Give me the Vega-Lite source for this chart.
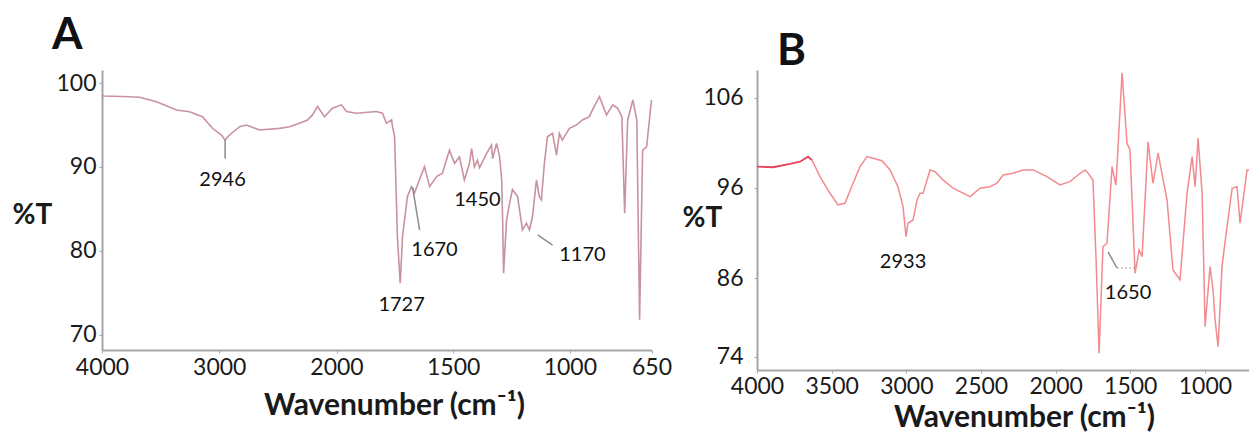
{
  "$schema": "https://vega.github.io/schema/vega-lite/v6.json",
  "background": "white",
  "padding": {"left": 12, "top": 14, "right": 0, "bottom": 0},
  "bounds": "flush",
  "spacing": 105,
  "config": {
    "view": {"stroke": null},
    "axis": {"grid": false, "labelFont": "Lato", "titleFont": "Lato", "domainColor": "#a6a6a6", "domainWidth": 2, "tickColor": "#a6a6a6", "tickSize": 3, "labelColor": "#1a1a1a", "titleColor": "#1a1a1a", "labelFontSize": 23, "labelFlush": false, "labelOverlap": false, "format": "d"},
    "text": {"font": "Lato"},
    "title": {"font": "Lato"}
  },
  "datasets": {
    "A": [
      {"w": 4000, "t": 98.5}, {"w": 3979, "t": 98.45}, {"w": 3765, "t": 98.37}, {"w": 3680, "t": 98.3}, {"w": 3535, "t": 97.77}, {"w": 3365, "t": 96.79}, {"w": 3254, "t": 96.58}, {"w": 3143, "t": 95.99}, {"w": 3058, "t": 94.61}, {"w": 2981, "t": 93.81}, {"w": 2950, "t": 93.2}, {"w": 2913, "t": 93.81}, {"w": 2827, "t": 94.8}, {"w": 2768, "t": 95.0}, {"w": 2657, "t": 94.4}, {"w": 2486, "t": 94.6}, {"w": 2401, "t": 94.8}, {"w": 2316, "t": 95.2}, {"w": 2247, "t": 95.6}, {"w": 2205, "t": 96.2}, {"w": 2162, "t": 97.2}, {"w": 2102, "t": 95.99}, {"w": 2034, "t": 96.99}, {"w": 1979, "t": 97.4}, {"w": 1957, "t": 96.6}, {"w": 1914, "t": 96.4}, {"w": 1829, "t": 96.6}, {"w": 1803, "t": 96.4}, {"w": 1786, "t": 95.2}, {"w": 1764, "t": 95.6}, {"w": 1760, "t": 94.8}, {"w": 1751, "t": 93.6}, {"w": 1739, "t": 81.7}, {"w": 1727, "t": 76.15}, {"w": 1717, "t": 81.7}, {"w": 1696, "t": 86.5}, {"w": 1679, "t": 87.65}, {"w": 1666, "t": 86.9}, {"w": 1623, "t": 90.04}, {"w": 1601, "t": 87.65}, {"w": 1571, "t": 88.85}, {"w": 1546, "t": 89.25}, {"w": 1516, "t": 92.0}, {"w": 1494, "t": 90.44}, {"w": 1473, "t": 91.2}, {"w": 1452, "t": 88.45}, {"w": 1430, "t": 90.44}, {"w": 1421, "t": 92.2}, {"w": 1409, "t": 90.0}, {"w": 1396, "t": 90.8}, {"w": 1387, "t": 89.9}, {"w": 1357, "t": 91.6}, {"w": 1336, "t": 92.6}, {"w": 1331, "t": 91.0}, {"w": 1314, "t": 92.8}, {"w": 1301, "t": 91.2}, {"w": 1292, "t": 88.45}, {"w": 1288, "t": 83.7}, {"w": 1284, "t": 77.35}, {"w": 1271, "t": 83.7}, {"w": 1258, "t": 85.7}, {"w": 1246, "t": 87.3}, {"w": 1224, "t": 86.5}, {"w": 1203, "t": 82.5}, {"w": 1186, "t": 83.3}, {"w": 1173, "t": 82.5}, {"w": 1160, "t": 84.1}, {"w": 1143, "t": 88.45}, {"w": 1131, "t": 86.5}, {"w": 1122, "t": 86.1}, {"w": 1109, "t": 90.44}, {"w": 1096, "t": 93.6}, {"w": 1074, "t": 94.0}, {"w": 1057, "t": 91.4}, {"w": 1045, "t": 94.0}, {"w": 1032, "t": 93.2}, {"w": 1002, "t": 94.6}, {"w": 972, "t": 95.0}, {"w": 946, "t": 95.6}, {"w": 916, "t": 95.99}, {"w": 903, "t": 96.8}, {"w": 873, "t": 98.37}, {"w": 843, "t": 96.2}, {"w": 816, "t": 97.4}, {"w": 795, "t": 96.99}, {"w": 777, "t": 95.99}, {"w": 765, "t": 84.5}, {"w": 752, "t": 95.6}, {"w": 730, "t": 97.98}, {"w": 713, "t": 95.6}, {"w": 701, "t": 71.8}, {"w": 688, "t": 92.0}, {"w": 671, "t": 92.4}, {"w": 650, "t": 97.98}
    ],
    "B1": [
      {"w": 4000, "t": 98.37}, {"w": 3893, "t": 98.3}, {"w": 3779, "t": 98.67}, {"w": 3712, "t": 98.92}, {"w": 3658, "t": 99.48}, {"w": 3632, "t": 99.11}
    ],
    "B2": [
      {"w": 3632, "t": 99.11}, {"w": 3578, "t": 97.26}, {"w": 3511, "t": 95.41}, {"w": 3457, "t": 94.11}, {"w": 3411, "t": 94.3}, {"w": 3357, "t": 96.52}, {"w": 3310, "t": 98.37}, {"w": 3263, "t": 99.48}, {"w": 3223, "t": 99.3}, {"w": 3163, "t": 99.03}, {"w": 3109, "t": 98.0}, {"w": 3056, "t": 96.14}, {"w": 3022, "t": 93.92}, {"w": 3002, "t": 90.59}, {"w": 2989, "t": 92.08}, {"w": 2955, "t": 92.44}, {"w": 2928, "t": 94.67}, {"w": 2908, "t": 95.41}, {"w": 2888, "t": 95.41}, {"w": 2841, "t": 98.0}, {"w": 2808, "t": 97.81}, {"w": 2754, "t": 96.89}, {"w": 2687, "t": 95.97}, {"w": 2573, "t": 95.03}, {"w": 2506, "t": 95.97}, {"w": 2439, "t": 96.14}, {"w": 2393, "t": 96.52}, {"w": 2352, "t": 97.44}, {"w": 2285, "t": 97.63}, {"w": 2218, "t": 98.0}, {"w": 2151, "t": 98.0}, {"w": 2058, "t": 97.26}, {"w": 1971, "t": 96.33}, {"w": 1904, "t": 96.7}, {"w": 1850, "t": 97.44}, {"w": 1803, "t": 98.0}, {"w": 1790, "t": 97.81}, {"w": 1750, "t": 96.89}, {"w": 1729, "t": 88.0}, {"w": 1709, "t": 74.54}, {"w": 1683, "t": 89.48}, {"w": 1656, "t": 89.86}, {"w": 1622, "t": 98.37}, {"w": 1596, "t": 96.33}, {"w": 1555, "t": 108.8}, {"w": 1522, "t": 100.97}, {"w": 1502, "t": 100.22}, {"w": 1468, "t": 86.52}, {"w": 1441, "t": 89.11}, {"w": 1421, "t": 88.37}, {"w": 1381, "t": 101.14}, {"w": 1348, "t": 96.52}, {"w": 1314, "t": 99.86}, {"w": 1254, "t": 94.67}, {"w": 1214, "t": 86.89}, {"w": 1167, "t": 85.7}, {"w": 1120, "t": 95.41}, {"w": 1086, "t": 99.48}, {"w": 1066, "t": 96.14}, {"w": 1046, "t": 101.52}, {"w": 1019, "t": 95.41}, {"w": 999, "t": 78.59}, {"w": 966, "t": 87.26}, {"w": 946, "t": 84.17}, {"w": 932, "t": 79.61}, {"w": 912, "t": 75.54}, {"w": 886, "t": 87.26}, {"w": 865, "t": 90.03}, {"w": 818, "t": 95.97}, {"w": 785, "t": 96.14}, {"w": 765, "t": 92.08}, {"w": 718, "t": 98.0}, {"w": 705, "t": 98.0}
    ],
    "annA": [
      {"w": 2972, "t": 88.45, "label": "2946"},
      {"w": 1721, "t": 73.57, "label": "1727"},
      {"w": 1580, "t": 80.1, "label": "1670"},
      {"w": 1396, "t": 86.07, "label": "1450"},
      {"w": 946, "t": 79.5, "label": "1170"}
    ],
    "leadA": [
      {"w": 2950, "t": 93.2, "w2": 2950, "t2": 91.0},
      {"w": 1674, "t": 87.6, "w2": 1644, "t2": 82.5},
      {"w": 1138, "t": 81.9, "w2": 1074, "t2": 80.7}
    ],
    "annB": [
      {"w": 3022, "t": 87.78, "label": "2933"},
      {"w": 1515, "t": 83.72, "label": "1650"}
    ],
    "leadB": [
      {"w": 1649, "t": 88.89, "w2": 1589, "t2": 87.11}
    ],
    "dotB": [
      {"w": 1589, "t": 87.11, "w2": 1468, "t2": 87.11}
    ]
  },
  "hconcat": [
    {
      "width": 550,
      "height": 280,
      "title": {"text": "A", "anchor": "start", "frame": "group", "fontSize": 44, "fontWeight": "bold", "color": "#111111", "dx": -50, "offset": 12},
      "layer": [
        {
          "data": {"name": "A"},
          "mark": {"type": "line", "color": "#c8929e", "strokeWidth": 1.6},
          "encoding": {
            "x": {"field": "w", "type": "quantitative", "title": "Wavenumber (cm⁻¹)",
              "scale": {"domain": [4000, 2000, 650], "range": [0, 234.5, 549.5], "nice": false, "zero": false},
              "axis": {"values": [4000, 3000, 2000, 1500, 1000, 650], "labelPadding": 3, "titleX": 292, "titleY": 64, "titleAlign": "center", "titleBaseline": "alphabetic", "titleFontSize": 30, "titleFontWeight": "bold"}},
            "y": {"field": "t", "type": "quantitative", "title": "%T",
              "scale": {"domain": [68.2, 101.55], "nice": false, "zero": false},
              "axis": {"values": [70, 80, 90, 100], "labelPadding": 3, "titleAngle": 0, "titleX": -90, "titleY": 145, "titleAlign": "left", "titleBaseline": "middle", "titleFontSize": 28, "titleFontWeight": "bold"}}
          }
        },
        {
          "data": {"name": "leadA"},
          "mark": {"type": "rule", "color": "#8c8c8c", "strokeWidth": 1.5},
          "encoding": {
            "x": {"field": "w", "type": "quantitative"}, "x2": {"field": "w2"},
            "y": {"field": "t", "type": "quantitative"}, "y2": {"field": "t2"}
          }
        },
        {
          "data": {"name": "annA"},
          "mark": {"type": "text", "fontSize": 20, "color": "#111111", "align": "center", "baseline": "middle"},
          "encoding": {
            "x": {"field": "w", "type": "quantitative"},
            "y": {"field": "t", "type": "quantitative"},
            "text": {"field": "label"}
          }
        }
      ]
    },
    {
      "width": 492,
      "height": 300,
      "title": {"text": "B", "anchor": "start", "frame": "group", "fontSize": 44, "fontWeight": "bold", "color": "#111111", "dx": 20, "offset": -4},
      "layer": [
        {
          "data": {"name": "B2"},
          "mark": {"type": "line", "color": "#f28a8f", "strokeWidth": 1.5},
          "encoding": {
            "x": {"field": "w", "type": "quantitative", "title": "Wavenumber (cm⁻¹)",
              "scale": {"domain": [4000, 705], "nice": false, "zero": false},
              "axis": {"values": [4000, 3500, 3000, 2500, 2000, 1500, 1000], "labelPadding": 2, "titleX": 267, "titleY": 56, "titleAlign": "center", "titleBaseline": "alphabetic", "titleFontSize": 30, "titleFontWeight": "bold"}},
            "y": {"field": "t", "type": "quantitative", "title": "%T",
              "scale": {"domain": [72, 86, 109.1], "range": [300, 208, 0], "nice": false, "zero": false},
              "axis": {"values": [74, 86, 96, 106], "labelPadding": 11, "titleAngle": 0, "titleX": -75, "titleY": 148, "titleAlign": "left", "titleBaseline": "middle", "titleFontSize": 28, "titleFontWeight": "bold"}}
          }
        },
        {
          "data": {"name": "B1"},
          "mark": {"type": "line", "color": "#e5405e", "strokeWidth": 1.8},
          "encoding": {
            "x": {"field": "w", "type": "quantitative"},
            "y": {"field": "t", "type": "quantitative"}
          }
        },
        {
          "data": {"name": "leadB"},
          "mark": {"type": "rule", "color": "#8c8c8c", "strokeWidth": 1.5},
          "encoding": {
            "x": {"field": "w", "type": "quantitative"}, "x2": {"field": "w2"},
            "y": {"field": "t", "type": "quantitative"}, "y2": {"field": "t2"}
          }
        },
        {
          "data": {"name": "dotB"},
          "mark": {"type": "rule", "color": "#a0a0a0", "strokeWidth": 1, "strokeDash": [2, 2]},
          "encoding": {
            "x": {"field": "w", "type": "quantitative"}, "x2": {"field": "w2"},
            "y": {"field": "t", "type": "quantitative"}, "y2": {"field": "t2"}
          }
        },
        {
          "data": {"name": "annB"},
          "mark": {"type": "text", "fontSize": 20, "color": "#111111", "align": "center", "baseline": "middle"},
          "encoding": {
            "x": {"field": "w", "type": "quantitative"},
            "y": {"field": "t", "type": "quantitative"},
            "text": {"field": "label"}
          }
        }
      ]
    }
  ]
}
